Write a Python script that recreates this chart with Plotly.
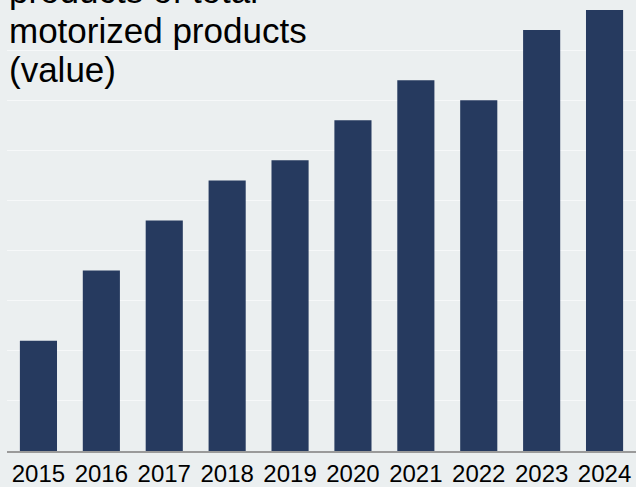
import plotly.graph_objects as go

# Yearly share values (percent) of the product group in total motorized products
years = ["2015", "2016", "2017", "2018", "2019", "2020", "2021", "2022", "2023", "2024"]
share = [2.2, 3.6, 4.6, 5.4, 5.8, 6.6, 7.4, 7.0, 8.4, 8.8]

title_lines = ["products of total", "motorized products", "(value)"]

BG = "#ebeff0"
BAR = "#263a5f"
FONT = "Liberation Sans, Arial, sans-serif"

fig = go.Figure(
    go.Bar(
        x=years,
        y=share,
        marker=dict(color=BAR, line=dict(width=0)),
        hoverinfo="x+y",
    )
)

# Title drawn as separate lines so the line spacing can be controlled
line_y = [1.02, 0.933, 0.846]
for txt, yy in zip(title_lines, line_y):
    fig.add_annotation(
        text=txt,
        xref="paper", yref="paper",
        x=0, y=yy,
        xanchor="left", yanchor="middle",
        showarrow=False,
        font=dict(family=FONT, size=35, color="#000000"),
    )

fig.update_layout(
    width=636,
    height=487,
    margin=dict(l=7, r=0, t=0, b=34),
    paper_bgcolor=BG,
    plot_bgcolor=BG,
    bargap=0.41,
    showlegend=False,
    font=dict(family=FONT, color="#000000"),
)

fig.update_xaxes(
    showline=True,
    linecolor="#9a9a9a",
    linewidth=1.5,
    ticks="",
    tickfont=dict(size=24, family=FONT, color="#000000"),
    showgrid=False,
)

fig.update_yaxes(
    range=[0, 9],
    dtick=1,
    showgrid=True,
    gridcolor="#f6f8f9",
    gridwidth=1,
    zeroline=False,
    showticklabels=False,
    ticks="",
)

fig.write_html("out.html")
